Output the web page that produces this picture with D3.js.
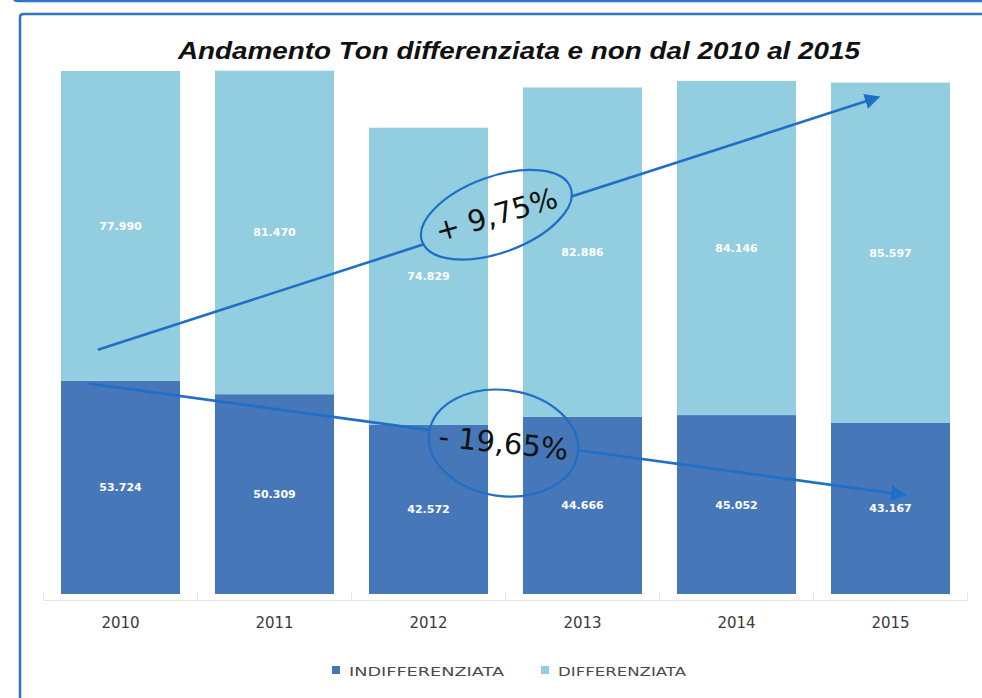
<!DOCTYPE html>
<html>
<head>
<meta charset="utf-8">
<script src="https://cdn.jsdelivr.net/npm/d3@7"></script>
<style>
  body { margin: 0; background: #fff; }
  svg { display: block; }
</style>
</head>
<body>
<svg id="chart" width="982" height="698"></svg>
<script>
// data
const years = ["2010", "2011", "2012", "2013", "2014", "2015"];
const indifferenziata = [53724, 50309, 42572, 44666, 45052, 43167];
const differenziata = [77990, 81470, 74829, 82886, 84146, 85597];
const seriesNames = ["INDIFFERENZIATA", "DIFFERENZIATA"];
const colors = ["#4677b8", "#93cde0"];

// hand drawn notes, placed in data space (year, fraction of band, value)
const arrows = [
    { from: ["2010", 0.31, 61500], to: ["2015", 0.39, 125000] },
    { from: ["2010", 0.23, 53000], to: ["2015", 0.61, 25000] }
];
const notes = [
    { text: "+ 9,75%", at: ["2012", 1.07, 95500], rx: 79, ry: 38, rot: -20, textRot: -16 },
    { text: "- 19,65%", at: ["2012", 1.13, 38000], rx: 75, ry: 53, rot: 8, textRot: 6 }
];

const svg = d3.select("#chart");

// frames around the picture
svg.append("path")
    .attr("d", "M14,-10 L14,-2 Q14,1 18,1 L990,1")
    .attr("fill", "none").attr("stroke", "#2e75c4").attr("stroke-width", 2.5);
svg.append("path")
    .attr("d", "M20,710 L20,17 Q20,14 24,14 L990,14")
    .attr("fill", "none").attr("stroke", "#2e75c4").attr("stroke-width", 2.5);

const x = d3.scaleBand()
    .domain(years)
    .range([43.5, 967.5])
    .paddingInner(0.227)
    .paddingOuter(0.1135);

const y = d3.scaleLinear()
    .domain([0, 140000])
    .range([594, 38]);

const fmt = d3.formatLocale({ decimal: ",", thousands: ".", grouping: [3], currency: ["", "€"] }).format(",d");

// title
svg.append("text")
    .attr("x", 519)
    .attr("y", 59)
    .attr("text-anchor", "middle")
    .style("font-family", "Liberation Sans, Arial, sans-serif")
    .style("font-weight", "bold")
    .style("font-style", "italic")
    .style("font-size", "23px")
    .attr("fill", "#111")
    .attr("textLength", 682)
    .attr("lengthAdjust", "spacingAndGlyphs")
    .text("Andamento Ton differenziata e non dal 2010 al 2015");

// stacked bars
const table = years.map((yr, i) => ({ year: yr, INDIFFERENZIATA: indifferenziata[i], DIFFERENZIATA: differenziata[i] }));
const stacked = d3.stack().keys(seriesNames)(table);

const layers = svg.append("g").selectAll("g")
    .data(stacked)
    .join("g")
    .attr("fill", (d, i) => colors[i]);

layers.selectAll("rect")
    .data(d => d)
    .join("rect")
    .attr("x", d => x(d.data.year))
    .attr("y", d => y(d[1]))
    .attr("width", x.bandwidth())
    .attr("height", d => y(d[0]) - y(d[1]));

layers.selectAll("text")
    .data(d => d)
    .join("text")
    .attr("x", d => x(d.data.year) + x.bandwidth() / 2)
    .attr("y", d => (y(d[0]) + y(d[1])) / 2 + 4)
    .attr("text-anchor", "middle")
    .attr("fill", "#fff")
    .style("font-family", "DejaVu Sans, sans-serif")
    .style("font-weight", "bold")
    .style("font-size", "11px")
    .text(d => fmt(d[1] - d[0]));

// category axis
const axis = svg.append("g")
    .attr("transform", "translate(0,600)")
    .call(d3.axisBottom(x).tickSize(0).tickPadding(17));
axis.select(".domain").attr("stroke", "#e4e4e4");
axis.selectAll(".tick text")
    .attr("fill", "#3a3a3a")
    .style("font-family", "DejaVu Sans, sans-serif")
    .style("font-size", "15px");
const edge = i => i < years.length
    ? x(years[i]) - x.step() * x.paddingInner() / 2
    : x(years[i - 1]) + x.bandwidth() + x.step() * x.paddingInner() / 2;
axis.selectAll(".sep")
    .data(d3.range(years.length + 1))
    .join("line")
    .attr("class", "sep")
    .attr("x1", edge)
    .attr("x2", edge)
    .attr("y1", -8).attr("y2", 0)
    .attr("stroke", "#e4e4e4");

// legend
const legendX = [332, 541];
const legendW = [155, 128];
const legend = svg.append("g").selectAll("g")
    .data(seriesNames)
    .join("g")
    .attr("transform", (d, i) => "translate(" + legendX[i] + ",666)");
legend.append("rect")
    .attr("width", 8).attr("height", 8)
    .attr("fill", (d, i) => colors[i]);
legend.append("text")
    .attr("x", 17).attr("y", 10)
    .attr("fill", "#4a4a4a")
    .style("font-family", "DejaVu Sans, sans-serif")
    .style("font-size", "13px")
    .attr("textLength", (d, i) => legendW[i])
    .attr("lengthAdjust", "spacingAndGlyphs")
    .text(d => d);

// annotations
const px = p => [x(p[0]) + x.bandwidth() * p[1], y(p[2])];
const ink = "#1f6fc6";

svg.append("defs").append("marker")
    .attr("id", "head")
    .attr("viewBox", "0 0 10 10")
    .attr("refX", 8).attr("refY", 5)
    .attr("markerWidth", 6).attr("markerHeight", 6)
    .attr("markerUnits", "strokeWidth")
    .attr("orient", "auto")
    .append("path")
    .attr("d", "M0,0 L10,5 L0,10 Z")
    .attr("fill", ink);

const noteG = svg.append("g");

arrows.forEach((a, k) => {
    const p0 = px(a.from), p1 = px(a.to);
    const n = notes[k];
    const c = px(n.at);
    // cut the line where it meets the ellipse
    const dx = p1[0] - p0[0], dy = p1[1] - p0[1];
    const r = n.rot * Math.PI / 180;
    const ts = [];
    for (let t = 0; t <= 1; t += 0.0005) {
        const qx = p0[0] + dx * t - c[0], qy = p0[1] + dy * t - c[1];
        const u = qx * Math.cos(-r) - qy * Math.sin(-r);
        const v = qx * Math.sin(-r) + qy * Math.cos(-r);
        if ((u * u) / (n.rx * n.rx) + (v * v) / (n.ry * n.ry) < 1) ts.push(t);
    }
    const tIn = d3.min(ts), tOut = d3.max(ts);
    noteG.append("line")
        .attr("x1", p0[0]).attr("y1", p0[1])
        .attr("x2", p0[0] + dx * tIn).attr("y2", p0[1] + dy * tIn)
        .attr("stroke", ink).attr("stroke-width", 2.6);
    noteG.append("line")
        .attr("x1", p0[0] + dx * tOut).attr("y1", p0[1] + dy * tOut)
        .attr("x2", p1[0]).attr("y2", p1[1])
        .attr("stroke", ink).attr("stroke-width", 2.6)
        .attr("marker-end", "url(#head)");
});

notes.forEach(n => {
    const c = px(n.at);
    noteG.append("ellipse")
        .attr("cx", c[0]).attr("cy", c[1])
        .attr("rx", n.rx).attr("ry", n.ry)
        .attr("transform", "rotate(" + n.rot + "," + c[0] + "," + c[1] + ")")
        .attr("fill", "none")
        .attr("stroke", ink)
        .attr("stroke-width", 2.2);
    noteG.append("text")
        .attr("x", c[0]).attr("y", c[1] + 10)
        .attr("text-anchor", "middle")
        .attr("transform", "rotate(" + n.textRot + "," + c[0] + "," + c[1] + ")")
        .attr("fill", "#111")
        .style("font-family", "DejaVu Sans, sans-serif")
        .style("font-size", "29px")
        .text(n.text);
});
</script>
</body>
</html>
